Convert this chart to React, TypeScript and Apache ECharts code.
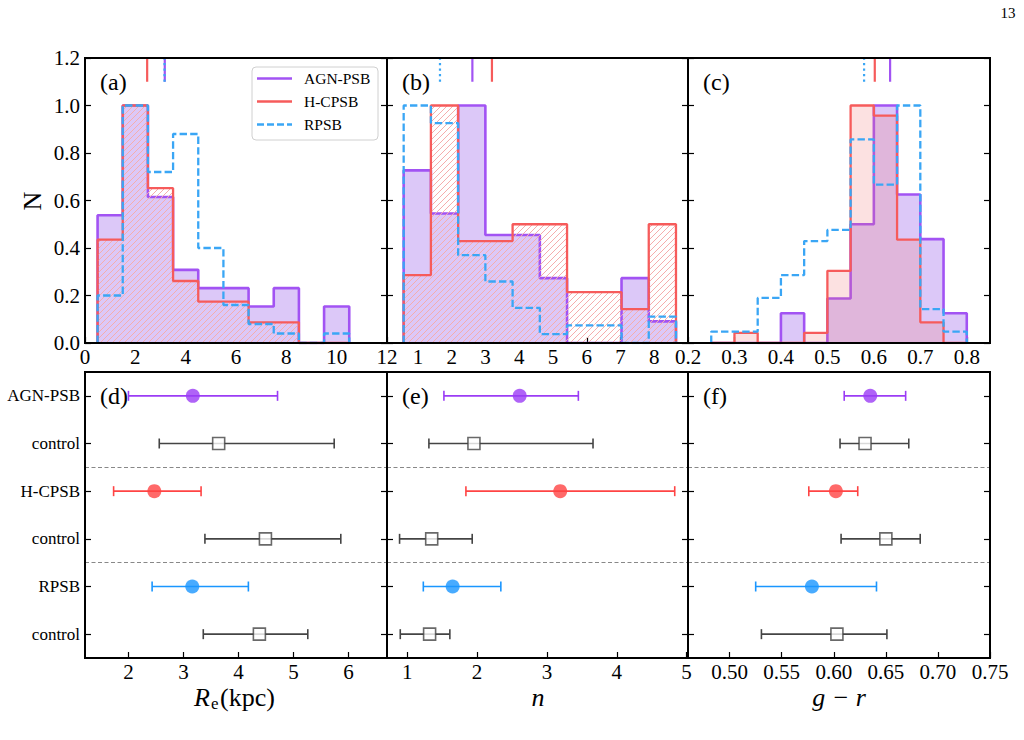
import React, { useEffect, useRef } from 'react';
import * as echarts from 'echarts';

// ---- histogram bins (top row), normalised to the peak bin ----
const reEdges = [0.5, 1.5, 2.5, 3.5, 4.5, 5.5, 6.5, 7.5, 8.5, 9.5, 10.5];
const reAgn = [0.538, 1.0, 0.615, 0.308, 0.231, 0.231, 0.154, 0.231, 0, 0.154];
const reHc = [0.435, 1.0, 0.652, 0.261, 0.174, 0.174, 0.087, 0.087, 0, 0];
const reRp = [0.2, 1.0, 0.72, 0.88, 0.4, 0.16, 0.08, 0.04, 0, 0.04];

const nEdges = [0.574, 1.381, 2.188, 2.995, 3.802, 4.609, 5.416, 6.223, 7.03, 7.837, 8.644];
const nAgn = [0.727, 0.545, 1.0, 0.455, 0.455, 0.273, 0, 0, 0.273, 0.091];
const nHc = [0.286, 1.0, 0.429, 0.429, 0.5, 0.5, 0.214, 0.214, 0.143, 0.5];
const nRp = [1.0, 0.926, 0.37, 0.259, 0.148, 0.037, 0.074, 0.074, 0, 0.111];

const grEdges = [0.25, 0.3, 0.35, 0.4, 0.45, 0.5, 0.55, 0.6, 0.65, 0.7, 0.75, 0.8];
const grAgn = [0, 0, 0, 0.125, 0, 0.1875, 0.5, 1.0, 0.625, 0.4375, 0.125];
const grHc = [0, 0.043, 0, 0, 0.043, 0.304, 1.0, 0.957, 0.435, 0.087, 0];
const grRp = [0.048, 0.048, 0.19, 0.286, 0.429, 0.476, 0.857, 0.667, 1.0, 0.143, 0.048];

// ---- medians and 16-84 ranges (bottom row) ----
const rowLabels = ['AGN-PSB', 'control', 'H-CPSB', 'control', 'RPSB', 'control'];
const reMed = [3.17, 3.64, 2.47, 4.49, 3.16, 4.38];
const reLo = [2.0, 2.56, 1.73, 3.39, 2.43, 3.36];
const reHi = [4.71, 5.74, 3.32, 5.86, 4.18, 5.26];
const nMed = [2.61, 1.955, 3.19, 1.35, 1.65, 1.32];
const nLo = [1.525, 1.31, 1.84, 0.89, 1.23, 0.9];
const nHi = [3.45, 3.66, 4.83, 1.93, 2.34, 1.61];
const grMed = [0.635, 0.63, 0.602, 0.65, 0.579, 0.603];
const grLo = [0.61, 0.606, 0.576, 0.607, 0.525, 0.5305];
const grHi = [0.669, 0.672, 0.623, 0.683, 0.641, 0.651];

// ---- tick values ----
const yHistTicks = [0, 0.2, 0.4, 0.6, 0.8, 1.0, 1.2];
const reHistTicks = [0, 2, 4, 6, 8, 10, 12];
const nHistTicks = [1, 2, 3, 4, 5, 6, 7, 8];
const grHistTicks = [0.2, 0.3, 0.4, 0.5, 0.6, 0.7, 0.8];
const reTicks = [2, 3, 4, 5, 6];
const nTicks = [1, 2, 3, 4, 5];
const grTicks = [0.5, 0.55, 0.6, 0.65, 0.7, 0.75];
const rowTicks = [0, 1, 2, 3, 4, 5];

const FONT = '"Liberation Serif", "DejaVu Serif", "Times New Roman", serif';
const PURPLE = '#a253f3';
const PURPLE_PT = '#9b3cf5';
const PURPLE_FILL = '#dcc8f8';
const RED = '#f65b5b';
const RED_PT = '#ff4444';
const HATCH = '#f5adad';
const HATCH_TINT = 'rgba(242, 120, 120, 0.22)';
const BLUE = '#3aa6f5';
const BLUE_PT = '#1a96ff';
const GREY = '#444444';
const rowColors = [PURPLE_PT, GREY, RED_PT, GREY, BLUE_PT, GREY];

const COLS = [
  { x: 85, w: 302 },
  { x: 387, w: 301 },
  { x: 688, w: 302 },
];
const TOP = { y: 58, h: 285 };
const BOT = { y: 372, h: 286 };
const HIST_X = [
  [0, 12],
  [0.08, 9.0],
  [0.2, 0.85],
];
const HIST_Y = [0, 1.2];

// "///" hatch strokes of each H-CPSB bin, expressed in the data units of panel g
// so that they are drawn through that panel's own axes.
function hatchSegments(g: number, edges: number[], heights: number[]) {
  const [xmin, xmax] = HIST_X[g];
  const [ymin, ymax] = HIST_Y;
  const kx = COLS[g].w / (xmax - xmin);
  const ky = TOP.h / (ymax - ymin);
  const toU = (x: number) => (x - xmin) * kx;
  const toV = (y: number) => (ymax - y) * ky;
  const fromU = (u: number) => xmin + u / kx;
  const fromV = (v: number) => ymax - v / ky;
  const out: any[] = [];
  const s = 6;
  heights.forEach((h, i) => {
    if (!(h > 0)) return;
    const L = toU(edges[i]), R = toU(edges[i + 1]), T = toV(h), B = toV(0);
    for (let c = Math.ceil((L + T) / s) * s; c <= R + B; c += s) {
      const ua = Math.max(L, c - B);
      const ub = Math.min(R, c - T);
      if (ub > ua) {
        out.push([fromU(ua), fromV(c - ua)], [fromU(ub), fromV(c - ub)], [fromU(ub), '-']);
      }
    }
  });
  return out;
}

function stepPath(edges: number[], heights: number[]) {
  const pts: number[][] = [[edges[0], 0]];
  heights.forEach((h, i) => {
    pts.push([edges[i], h], [edges[i + 1], h]);
  });
  pts.push([edges[edges.length - 1], 0]);
  return pts;
}

function errItem(params: any, api: any) {
  const lo = api.value(0);
  const hi = api.value(1);
  const row = api.value(2);
  const a = api.coord([lo, row]);
  const b = api.coord([hi, row]);
  const st = { stroke: rowColors[params.dataIndex], lineWidth: 1.6 };
  return {
    type: 'group',
    children: [
      { type: 'line', shape: { x1: a[0], y1: a[1], x2: b[0], y2: b[1] }, style: st },
      { type: 'line', shape: { x1: a[0], y1: a[1] - 5, x2: a[0], y2: a[1] + 5 }, style: st },
      { type: 'line', shape: { x1: b[0], y1: b[1] - 5, x2: b[0], y2: b[1] + 5 }, style: st },
    ],
  };
}

const tickStyle = { show: true, inside: true, length: 6, lineStyle: { color: '#000', width: 1.2 } };

function xAxisDef(grid: number, min: number, max: number, ticks: number[], fmt: (v: number) => string) {
  return {
    type: 'value',
    gridIndex: grid,
    position: 'bottom',
    min,
    max,
    axisLine: { show: false, onZero: false },
    splitLine: { show: false },
    axisTick: { ...tickStyle, customValues: ticks },
    axisLabel: {
      customValues: ticks,
      formatter: fmt,
      fontFamily: FONT,
      fontSize: 21,
      color: '#000',
      margin: 3,
    },
  };
}

function yAxisDef(
  grid: number,
  pos: 'left' | 'right',
  min: number,
  max: number,
  ticks: number[],
  showLabel: boolean,
  fmt: (v: number) => string,
  inverse: boolean,
  fontSize: number
) {
  return {
    type: 'value',
    gridIndex: grid,
    position: pos,
    min,
    max,
    inverse,
    axisLine: { show: false, onZero: false },
    splitLine: { show: false },
    axisTick: { ...tickStyle, customValues: ticks },
    axisLabel: {
      show: showLabel,
      customValues: ticks,
      formatter: fmt,
      fontFamily: FONT,
      fontSize,
      color: '#000',
      margin: 5,
    },
  };
}

function hatchSeries(g: number, edges: number[], hc: number[]) {
  return {
    xAxisIndex: g,
    yAxisIndex: 2 * g,
    symbol: 'none',
    silent: true,
    type: 'line',
    data: hatchSegments(g, edges, hc),
    connectNulls: false,
    lineStyle: { color: HATCH, width: 1 },
    z: 3,
  };
}

// tinted: the narrow colour bins carry a light red wash instead of strokes
function histSeries(g: number, edges: number[], agn: number[], hc: number[], rp: number[], tinted: boolean) {
  const common = { xAxisIndex: g, yAxisIndex: 2 * g, symbol: 'none', silent: true };
  const out: any[] = [
    {
      ...common,
      type: 'line',
      name: 'AGN-PSB',
      data: stepPath(edges, agn),
      lineStyle: { color: PURPLE, width: 2.6 },
      areaStyle: { color: PURPLE_FILL, opacity: 1 },
      z: 2,
    },
  ];
  if (!tinted) out.push(hatchSeries(g, edges, hc));
  out.push(
    {
      ...common,
      type: 'line',
      name: 'H-CPSB',
      data: stepPath(edges, hc),
      lineStyle: { color: RED, width: 2.3 },
      areaStyle: tinted ? { color: HATCH_TINT, opacity: 1 } : undefined,
      z: 4,
    },
    {
      ...common,
      type: 'line',
      name: 'RPSB',
      data: stepPath(edges, rp),
      lineStyle: { color: BLUE, width: 2.3, type: [7.4, 3.2] },
      z: 5,
    }
  );
  return out;
}

function medianMarks(g: number, agn: number, hc: number, rp: number) {
  const common = { type: 'line', xAxisIndex: g, yAxisIndex: 2 * g, symbol: 'none', silent: true, z: 6 };
  return [
    { ...common, data: [[agn, 1.1], [agn, 1.2]], lineStyle: { color: PURPLE, width: 2.2 } },
    { ...common, data: [[hc, 1.1], [hc, 1.2]], lineStyle: { color: RED, width: 2.2 } },
    { ...common, data: [[rp, 1.1], [rp, 1.2]], lineStyle: { color: BLUE, width: 2.2, type: [2.2, 3.3] }, z: 7 },
  ];
}

function summarySeries(g: number, med: number[], lo: number[], hi: number[]) {
  const xi = g;
  const yi = 2 * g;
  return [
    {
      type: 'custom',
      xAxisIndex: xi,
      yAxisIndex: yi,
      silent: true,
      dimensions: ['lo', 'hi', 'row'],
      encode: { x: ['lo', 'hi'], y: 'row' },
      renderItem: errItem,
      data: lo.map((v, i) => [v, hi[i], i]),
      z: 3,
    },
    {
      type: 'scatter',
      xAxisIndex: xi,
      yAxisIndex: yi,
      silent: true,
      z: 4,
      data: med.map((v, i) =>
        i % 2 === 0
          ? { value: [v, i], symbol: 'circle', symbolSize: 14, itemStyle: { color: rowColors[i] } }
          : {
              value: [v, i],
              symbol: 'rect',
              symbolSize: 12,
              itemStyle: { color: '#fff', borderColor: GREY, borderWidth: 1.6 },
            }
      ),
      markLine: {
        silent: true,
        symbol: ['none', 'none'],
        label: { show: false },
        lineStyle: { type: [4, 2.5], color: '#888', width: 1 },
        data: [{ yAxis: 1.5 }, { yAxis: 3.5 }],
      },
    },
  ];
}

function buildOption() {
  const grids = [
    ...COLS.map((c) => ({ left: c.x, top: TOP.y, width: c.w, height: TOP.h })),
    ...COLS.map((c) => ({ left: c.x, top: BOT.y, width: c.w, height: BOT.h })),
  ].map((g) => ({ ...g, containLabel: false, outerBoundsMode: 'none', show: false }));

  const f1 = (v: number) => v.toFixed(1);
  const f2 = (v: number) => v.toFixed(2);
  const fi = (v: number) => String(Math.round(v));
  const rowFmt = (v: number) => rowLabels[Math.round(v)];

  const xAxes = [
    xAxisDef(0, HIST_X[0][0], HIST_X[0][1], reHistTicks, fi),
    xAxisDef(1, HIST_X[1][0], HIST_X[1][1], nHistTicks, fi),
    xAxisDef(2, HIST_X[2][0], HIST_X[2][1], grHistTicks, f1),
    xAxisDef(3, 1.21, 6.7, reTicks, fi),
    xAxisDef(4, 0.71, 5.02, nTicks, fi),
    xAxisDef(5, 0.46, 0.75, grTicks, f2),
  ];

  const yAxes: any[] = [];
  for (let g = 0; g < 3; g++) {
    yAxes.push(yAxisDef(g, 'left', HIST_Y[0], HIST_Y[1], yHistTicks, g === 0, f1, false, 21));
    yAxes.push(yAxisDef(g, 'right', HIST_Y[0], HIST_Y[1], yHistTicks, false, f1, false, 21));
  }
  for (let g = 3; g < 6; g++) {
    yAxes.push(yAxisDef(g, 'left', -0.5, 5.5, rowTicks, g === 3, rowFmt, true, 17));
    yAxes.push(yAxisDef(g, 'right', -0.5, 5.5, rowTicks, false, rowFmt, true, 17));
  }

  const series: any[] = [
    ...histSeries(0, reEdges, reAgn, reHc, reRp, false),
    ...histSeries(1, nEdges, nAgn, nHc, nRp, false),
    ...histSeries(2, grEdges, grAgn, grHc, grRp, true),
    ...medianMarks(0, reMed[0], reMed[2], reMed[4]),
    ...medianMarks(1, nMed[0], nMed[2], nMed[4]),
    ...medianMarks(2, grMed[0], grMed[2], grMed[4]),
    ...summarySeries(3, reMed, reLo, reHi),
    ...summarySeries(4, nMed, nLo, nHi),
    ...summarySeries(5, grMed, grLo, grHi),
  ];

  const frames = [TOP, BOT].flatMap((r) =>
    COLS.map((c) => ({
      type: 'rect',
      silent: true,
      z: 100,
      shape: { x: c.x, y: r.y, width: c.w, height: r.h },
      style: { fill: 'none', stroke: '#000', lineWidth: 2 },
    }))
  );

  const panelNames = ['(a)', '(b)', '(c)', '(d)', '(e)', '(f)'];
  const panelLabels = panelNames.map((t, i) => ({
    type: 'text',
    silent: true,
    z: 101,
    x: COLS[i % 3].x + 15,
    y: (i < 3 ? TOP.y : BOT.y) + 24,
    style: { text: t, font: `24px ${FONT}`, fill: '#000', verticalAlign: 'middle', align: 'left' },
  }));

  const legendRows = [
    { name: 'AGN-PSB', color: PURPLE, dash: undefined as any, y: 78.5 },
    { name: 'H-CPSB', color: RED, dash: undefined as any, y: 101.5 },
    { name: 'RPSB', color: BLUE, dash: [7, 3], y: 124.5 },
  ];
  const legend = {
    type: 'group',
    z: 102,
    silent: true,
    children: [
      {
        type: 'rect',
        shape: { x: 252, y: 67, width: 126, height: 73, r: 4 },
        style: { fill: 'rgba(255,255,255,0.85)', stroke: '#d0d0d0', lineWidth: 1 },
      },
      ...legendRows.flatMap((r) => [
        {
          type: 'line',
          shape: { x1: 257, y1: r.y, x2: 292, y2: r.y },
          style: { stroke: r.color, lineWidth: 2.6, lineDash: r.dash },
        },
        {
          type: 'text',
          x: 304,
          y: r.y,
          style: { text: r.name, font: `15.5px ${FONT}`, fill: '#000', verticalAlign: 'middle', align: 'left' },
        },
      ]),
    ],
  };

  const axisTitles = [
    {
      type: 'text',
      x: 32,
      y: 201,
      rotation: Math.PI / 2,
      style: { text: 'N', font: `26px ${FONT}`, fill: '#000', align: 'center', verticalAlign: 'middle' },
    },
    {
      type: 'text',
      x: 194,
      y: 697,
      style: { text: 'R', font: `italic 26px ${FONT}`, fill: '#000', align: 'left', verticalAlign: 'middle' },
    },
    {
      type: 'text',
      x: 211,
      y: 703,
      style: { text: 'e', font: `17px ${FONT}`, fill: '#000', align: 'left', verticalAlign: 'middle' },
    },
    {
      type: 'text',
      x: 220,
      y: 697,
      style: { text: '(kpc)', font: `26px ${FONT}`, fill: '#000', align: 'left', verticalAlign: 'middle' },
    },
    {
      type: 'text',
      x: 538,
      y: 697,
      style: { text: 'n', font: `italic 26px ${FONT}`, fill: '#000', align: 'center', verticalAlign: 'middle' },
    },
    {
      type: 'text',
      x: 839,
      y: 697,
      style: { text: 'g − r', font: `italic 26px ${FONT}`, fill: '#000', align: 'center', verticalAlign: 'middle' },
    },
    {
      type: 'text',
      x: 1008,
      y: 13,
      style: { text: '13', font: `15px ${FONT}`, fill: '#000', align: 'center', verticalAlign: 'middle' },
    },
  ].map((t) => ({ ...t, silent: true, z: 101 }));

  return {
    animation: false,
    backgroundColor: '#fff',
    grid: grids,
    xAxis: xAxes,
    yAxis: yAxes,
    series,
    graphic: [...frames, ...panelLabels, legend, ...axisTitles],
  };
}

export default function App() {
  const ref = useRef<HTMLDivElement>(null);
  useEffect(() => {
    const chart = echarts.init(ref.current as HTMLDivElement, null, { renderer: 'svg' });
    chart.setOption(buildOption() as any);
    return () => chart.dispose();
  }, []);
  return (
    <div
      ref={ref}
      style={{ position: 'fixed', left: 0, top: 0, width: 1024, height: 740, background: '#fff' }}
    />
  );
}
